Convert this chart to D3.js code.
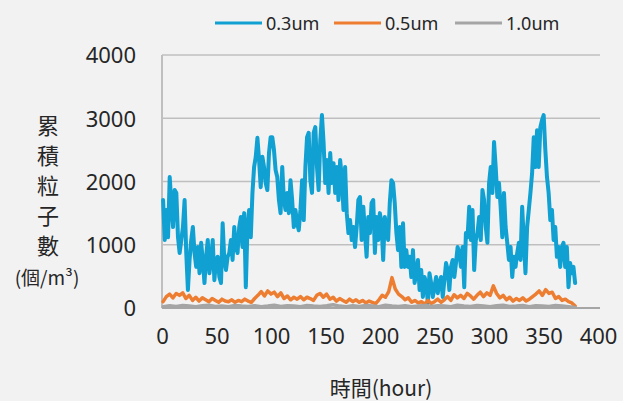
<!DOCTYPE html>
<html><head><meta charset="utf-8">
<script src="https://cdn.jsdelivr.net/npm/d3@7"></script>
<style>
html,body{margin:0;padding:0;background:#f2f2f2;}
svg{display:block;}
text{font-family:"Noto Sans","Noto Sans CJK TC",sans-serif;fill:#262626;}
.cjk{font-family:"Noto Sans CJK TC","Noto Sans",sans-serif;}
</style></head>
<body>
<svg id="chart" width="623" height="401"></svg>
<script>
// ---- data ----
const seriesNames = ["0.3um", "0.5um", "1.0um"];
const xTicks = [0, 50, 100, 150, 200, 250, 300, 350, 400];
const yTicks = [0, 1000, 2000, 3000, 4000];
const firstHour = 1, lastHour = 379;

const pm03 = [
1707,1075,1550,1120,2070,1660,1280,1865,1820,1120,870,1075,1280,1707,870,285,760,1075,1280,870,650,965,550,1030,760,395,810,1075,550,760,1075,440,760,810,490,395,1340,760,600,810,870,1075,760,1280,965,870,1280,1440,965,1500,330,1280,1550,1120,1820,2230,
2390,2690,2340,1910,2390,2230,1975,1865,2450,2700,2700,2500,2180,2070,1707,1500,2230,1707,1550,1820,1500,2020,1707,1280,1550,1340,1230,1550,2020,1390,2230,2700,2770,2020,1820,2770,2860,2230,1865,2650,3050,2610,1975,2340,1820,2450,1975,2290,1820,2230,1707,2340,2070,1550,2230,1500,1185,1390,1075,1280,965,1280,1707,1755,
1075,1600,1185,810,1440,1185,1660,1707,870,1440,1075,1500,1340,760,1440,1230,1075,1660,2020,1975,1660,1185,915,1280,650,1340,650,915,650,810,490,915,395,550,760,285,600,175,490,395,80,550,395,175,330,490,235,395,490,175,440,710,600,285,650,760,490,710,965,
870,650,965,330,1185,1120,1600,1075,1550,600,1075,1185,1440,1075,1865,1707,1280,1030,1975,2230,1820,2625,2230,1755,1975,1600,1120,1820,1280,1030,760,965,490,810,650,870,1030,760,1600,1075,550,1280,1550,1820,2130,2700,2230,2810,2230,2860,2970,3050,2500,2070,1820,1390,1550,1075,1280,810,965,650,965,1030,650,965,330,710,550,650,395
];

const pm05 = [
100,180,220,160,230,200,240,150,200,120,170,110,160,130,100,150,120,90,140,110,100,130,90,120,100,140,110,90,150,200,
260,190,270,220,250,180,240,150,190,130,170,140,180,130,170,150,120,200,230,170,220,140,170,110,150,120,90,140,100,130,
90,120,80,110,90,70,130,200,170,260,480,300,220,180,130,160,90,120,80,100,60,120,70,100,140,90,130,180,120,210,
160,200,150,230,190,140,200,250,180,240,200,350,230,160,200,130,170,110,150,120,160,110,140,180,220,270,200,290,230,250,
150,180,120,140,100,80,30
];

const pm10 = [
20,35,25,40,30,20,35,45,25,30,20,40,30,25,35,20,30,45,25,35,30,20,40,30,25,35,50,30,20,35,25,40,
30,20,45,30,25,35,20,30,40,25,35,30,20,45,30,25,40,30,20,35,45,25,30,40,20,35,30,25,40,30,20,10
];

const colors = ["#10a0d2", "#ed7d31", "#a5a5a5"];
const widths = [4, 3.5, 3.5];

// ---- build ----
function withHours(vals){
  const step = (lastHour - firstHour) / (vals.length - 1);
  return vals.map((v,i) => ({h: firstHour + i*step, v}));
}
const series = [pm03, pm05, pm10].map(withHours);

const svg = d3.select("#chart");
const x = d3.scaleLinear().domain([0,400]).range([162,598]);
const y = d3.scaleLinear().domain([0,4000]).range([308,55]);

// gridlines
svg.append("g").selectAll("line").data(yTicks.filter(d=>d>0)).join("line")
  .attr("x1", x(0)).attr("x2", 600)
  .attr("y1", d=>y(d)).attr("y2", d=>y(d))
  .attr("stroke", "#bfbfbf").attr("stroke-width", 1.6);

// axis lines
svg.append("line").attr("x1", x(0)).attr("x2", x(0)).attr("y1", y(4000)).attr("y2", y(0))
  .attr("stroke", "#bfbfbf").attr("stroke-width", 2);
svg.append("line").attr("x1", x(0)).attr("x2", 600).attr("y1", y(0)).attr("y2", y(0))
  .attr("stroke", "#a6a6a6").attr("stroke-width", 2);

// y tick labels
const yAxis = d3.axisLeft(y).tickValues(yTicks).tickSize(0).tickPadding(0).tickFormat(d3.format("d"));
const gy = svg.append("g").attr("transform", "translate(136,0)").call(yAxis);
gy.select(".domain").remove();
gy.selectAll("text").attr("font-size", 22).attr("fill", "#262626")
  .attr("font-family", '"Noto Sans",sans-serif').attr("dy", "0.36em");

// x tick labels
const xAxis = d3.axisBottom(x).tickValues(xTicks).tickSize(0).tickPadding(0).tickFormat(d3.format("d"));
const gx = svg.append("g").attr("transform", "translate(0,328)").call(xAxis);
gx.select(".domain").remove();
gx.selectAll("text").attr("font-size", 22).attr("fill", "#262626")
  .attr("font-family", '"Noto Sans",sans-serif').attr("dy", "0.71em");

// lines
const line = d3.line().x(d=>x(d.h)).y(d=>y(d.v));
series.forEach((s,i) => {
  svg.append("path").datum(s).attr("d", line)
    .attr("fill", "none").attr("stroke", colors[i]).attr("stroke-width", widths[i])
    .attr("stroke-linejoin", "round").attr("stroke-linecap", "round");
});

// y title
const yTitleChars = ["累","積","粒","子","數"];
svg.append("g").selectAll("text").data(yTitleChars).join("text")
  .attr("class","cjk").attr("x", 48).attr("y", (d,i)=>124 + i*30)
  .attr("text-anchor","middle").attr("dominant-baseline","central")
  .attr("font-size", 22).text(d=>d);
svg.append("text").attr("class","cjk").attr("x", 47).attr("y", 276)
  .attr("text-anchor","middle").attr("dominant-baseline","central")
  .attr("font-size", 19).text("(個/m³)");

// x title
svg.append("text").attr("class","cjk").attr("x", 381).attr("y", 387)
  .attr("text-anchor","middle").attr("dominant-baseline","central")
  .attr("font-size", 21).text("時間(hour)");

// legend
const legX = [215, 334, 455];
const leg = svg.append("g").selectAll("g").data(seriesNames).join("g")
  .attr("transform", (d,i)=>`translate(${legX[i]},23)`);
leg.append("line").attr("x1",0).attr("x2",47).attr("y1",0).attr("y2",0)
  .attr("stroke",(d,i)=>colors[i]).attr("stroke-width",3);
leg.append("text").attr("x",51).attr("y",0).attr("dominant-baseline","central")
  .attr("font-size",18).text(d=>d);
</script>
</body></html>
